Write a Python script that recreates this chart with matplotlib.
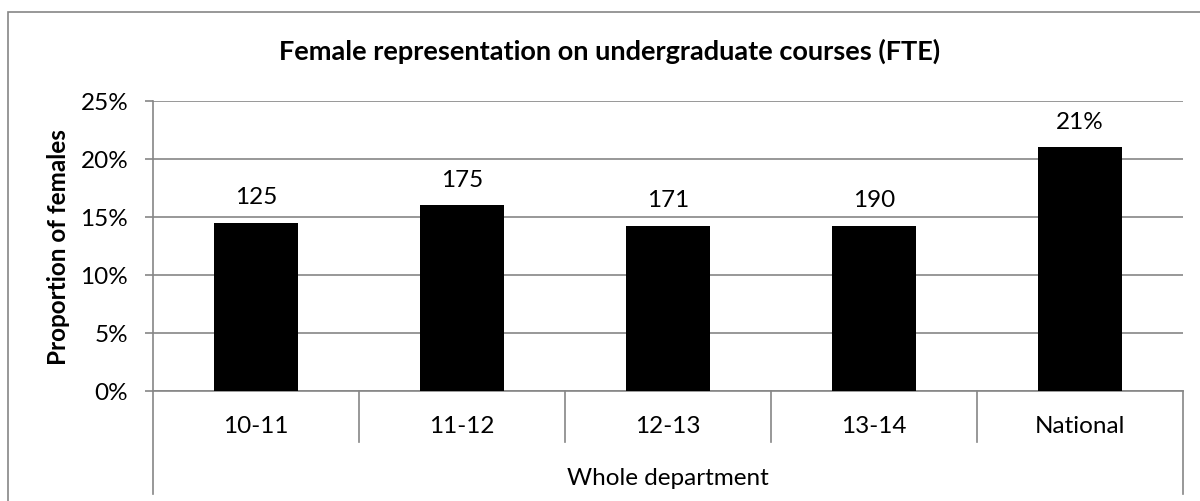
import matplotlib.pyplot as plt
from matplotlib.patches import Rectangle
from matplotlib.ticker import PercentFormatter

categories = ['10-11', '11-12', '12-13', '13-14', 'National']
proportions = [0.145, 0.160, 0.1425, 0.1425, 0.21]
bar_labels = ['125', '175', '171', '190', '21%']
group_label = 'Whole department'
title = 'Female representation on undergraduate courses (FTE)'

plt.rcParams['font.family'] = ['Lato', 'DejaVu Sans']
grey = '#868686'
fs = 17.5

fig = plt.figure(figsize=(12, 5.02), dpi=100)
fig.patches.append(Rectangle((8 / 1200, -0.5), 2, 1.5 - 13 / 502,
                             transform=fig.transFigure, fill=False,
                             edgecolor=grey, linewidth=1.2))

ax = fig.add_axes([153 / 1200, 1 - 392 / 502, 1030 / 1200, 290 / 502])
x = list(range(len(categories)))
ax.bar(x, proportions, width=0.41, color='black', zorder=3)
ax.set_xlim(-0.5, len(categories) - 0.5)
ax.set_ylim(0, 0.25)
ax.set_yticks([0, 0.05, 0.10, 0.15, 0.20, 0.25])
ax.yaxis.set_major_formatter(PercentFormatter(xmax=1, decimals=0))
ax.grid(axis='y', color=grey, linewidth=1.2, zorder=0)

for s in ['top', 'right']:
    ax.spines[s].set_visible(False)
for s in ['left', 'bottom']:
    ax.spines[s].set_color(grey)
    ax.spines[s].set_linewidth(1.2)

ax.tick_params(axis='y', length=5.8, color=grey, width=1.2, pad=12, labelsize=fs)
ax.set_xticks(x, categories)
ax.tick_params(axis='x', length=0, pad=25, labelsize=fs)
for t in ax.get_xticklabels():
    t.set_va('center')

# category boundary lines below the axis
tr = ax.get_xaxis_transform()
for b in [0.5, 1.5, 2.5, 3.5]:
    ax.plot([b, b], [0, -0.176], color=grey, linewidth=1.2, transform=tr, clip_on=False)
for b in [-0.5, len(categories) - 0.5]:
    ax.plot([b, b], [0, -0.355], color=grey, linewidth=1.2, transform=tr, clip_on=False)
ax.text((len(categories) - 1) / 2, -0.2966, group_label, transform=tr,
        ha='center', va='center', fontsize=fs)

for xi, v, lab in zip(x, proportions, bar_labels):
    ax.annotate(lab, (xi, v), xytext=(0, 18.7), textcoords='offset points',
                ha='center', va='center', fontsize=fs)

ax.set_ylabel('Proportion of females', fontsize=fs, fontweight='bold')
ax.yaxis.set_label_coords(-0.0806, 0.5)

fig.text(610 / 1200, 1 - 51 / 502, title, ha='center', va='center',
         fontsize=19.5, fontweight='bold')

fig.savefig('out.png', dpi=100)
